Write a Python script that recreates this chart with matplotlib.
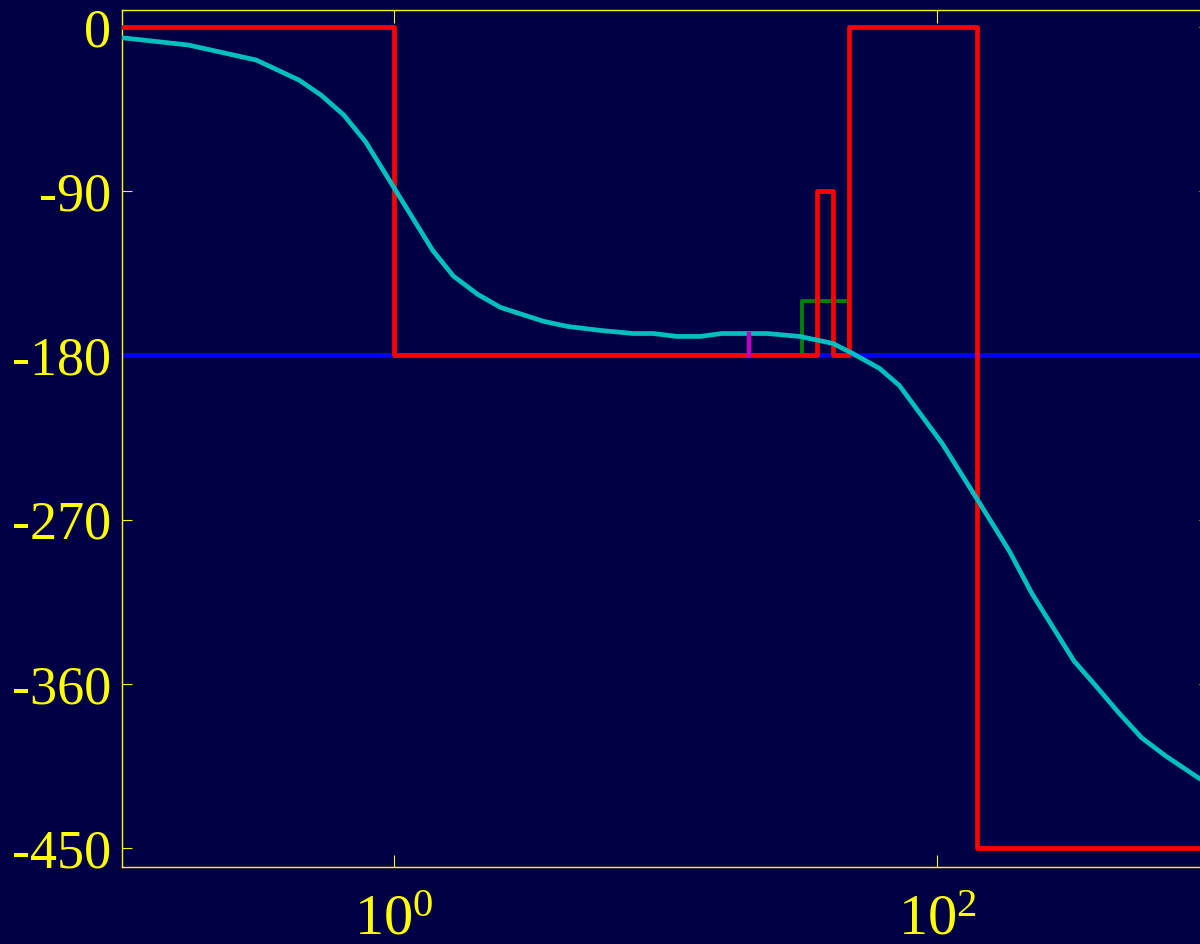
import numpy as np
from matplotlib import pyplot as plt
from matplotlib.ticker import FixedLocator, FixedFormatter, NullLocator

############################################
################  Data  ####################
############################################
# phase curve (cyan)
freq = [0.1013, 0.1754, 0.3115, 0.448, 0.5397, 0.6554, 0.7894, 1.390, 1.660,
        2.034, 2.470, 3.552, 4.350, 5.747, 7.597, 8.997, 11.02, 13.39, 16.12,
        20.42, 23.58, 31.16, 41.18, 48.77, 61.27, 72.54, 104.3, 139.0, 183.8,
        223.2, 318.3, 383.2, 465.6, 565.3, 692.4, 915.3, 1000.0]
phase = [-6.0, -9.9, -18.1, -29.1, -37.3, -48.3, -63.1, -122.4, -136.6,
         -146.5, -153.7, -161.3, -164.1, -166.3, -168.0, -168.0, -169.6, -169.6,
         -168.0, -168.0, -168.0, -169.6, -173.4, -178.9, -187.1, -196.5,
         -228.3, -257.9, -287.0, -310.6, -347.4, -361.1, -375.9, -389.6,
         -399.5, -411.6, -415.0]

# quantised phase (red step line)
step_f = [0.1, 1.0, 1.0, 36.0, 36.0, 41.2, 41.2, 47.5, 47.5, 140.3, 140.3, 1000.0]
step_p = [0, 0, -180, -180, -90, -90, -180, -180, 0, 0, -450, -450]

# green marker box
box_f = [31.8, 31.8, 47.5, 47.5]
box_p = [-180, -150, -150, -180]

# magenta marker
mark_f = [20.25, 20.25]
mark_p = [-180, -168.5]

# -180 reference (blue)
ref_f = [0.1, 1000.0]
ref_p = [-180, -180]

xtick_vals = [1, 100]
xtick_labels = [r'$\mathregular{10^{0}}$', r'$\mathregular{10^{2}}$']
ytick_vals = [-450, -360, -270, -180, -90, 0]
ytick_labels = ['-450', '-360', '-270', '-180', '-90', '0']

############################################
################  Plot  ####################
############################################
bg = '#000047'
fg = '#ffff00'

plt.rcParams['font.family'] = ['Liberation Serif', 'DejaVu Serif']
plt.rcParams['mathtext.fontset'] = 'custom'
plt.rcParams['mathtext.rm'] = 'Liberation Serif'

fig = plt.figure(figsize=(12, 9.44), dpi=100, facecolor=bg)
ax = fig.add_axes([122/1200, 77/944, 1087/1200, 857/944], facecolor=bg)

ax.plot(ref_f, ref_p, color='#0000ff', lw=3.3, zorder=2)
ax.plot(box_f, box_p, color='#008000', lw=2.8, zorder=3)
ax.plot(step_f, step_p, color='#ff0000', lw=3.4, zorder=4)
ax.plot(freq, phase, color='#00bfbf', lw=3.4, zorder=5)
ax.plot(mark_f, mark_p, color='#bf00bf', lw=3.2, zorder=6)

ax.set_xscale('log')
ax.set_xlim(0.1, 1000)
ax.set_ylim(-460.4, 9.3)

ax.xaxis.set_major_locator(FixedLocator(xtick_vals))
ax.xaxis.set_major_formatter(FixedFormatter(xtick_labels))
ax.xaxis.set_minor_locator(NullLocator())
ax.yaxis.set_major_locator(FixedLocator(ytick_vals))
ax.yaxis.set_major_formatter(FixedFormatter(ytick_labels))

for s in ax.spines.values():
    s.set_color(fg)
    s.set_linewidth(1.0)
ax.tick_params(axis='both', which='major', direction='in', colors=fg,
               labelsize=39, width=0.8)
ax.tick_params(axis='x', length=9, pad=20, top=True, labelsize=42)
ax.tick_params(axis='y', length=7, pad=8, right=True)

fig.savefig('out.png', dpi=100, facecolor=bg)
